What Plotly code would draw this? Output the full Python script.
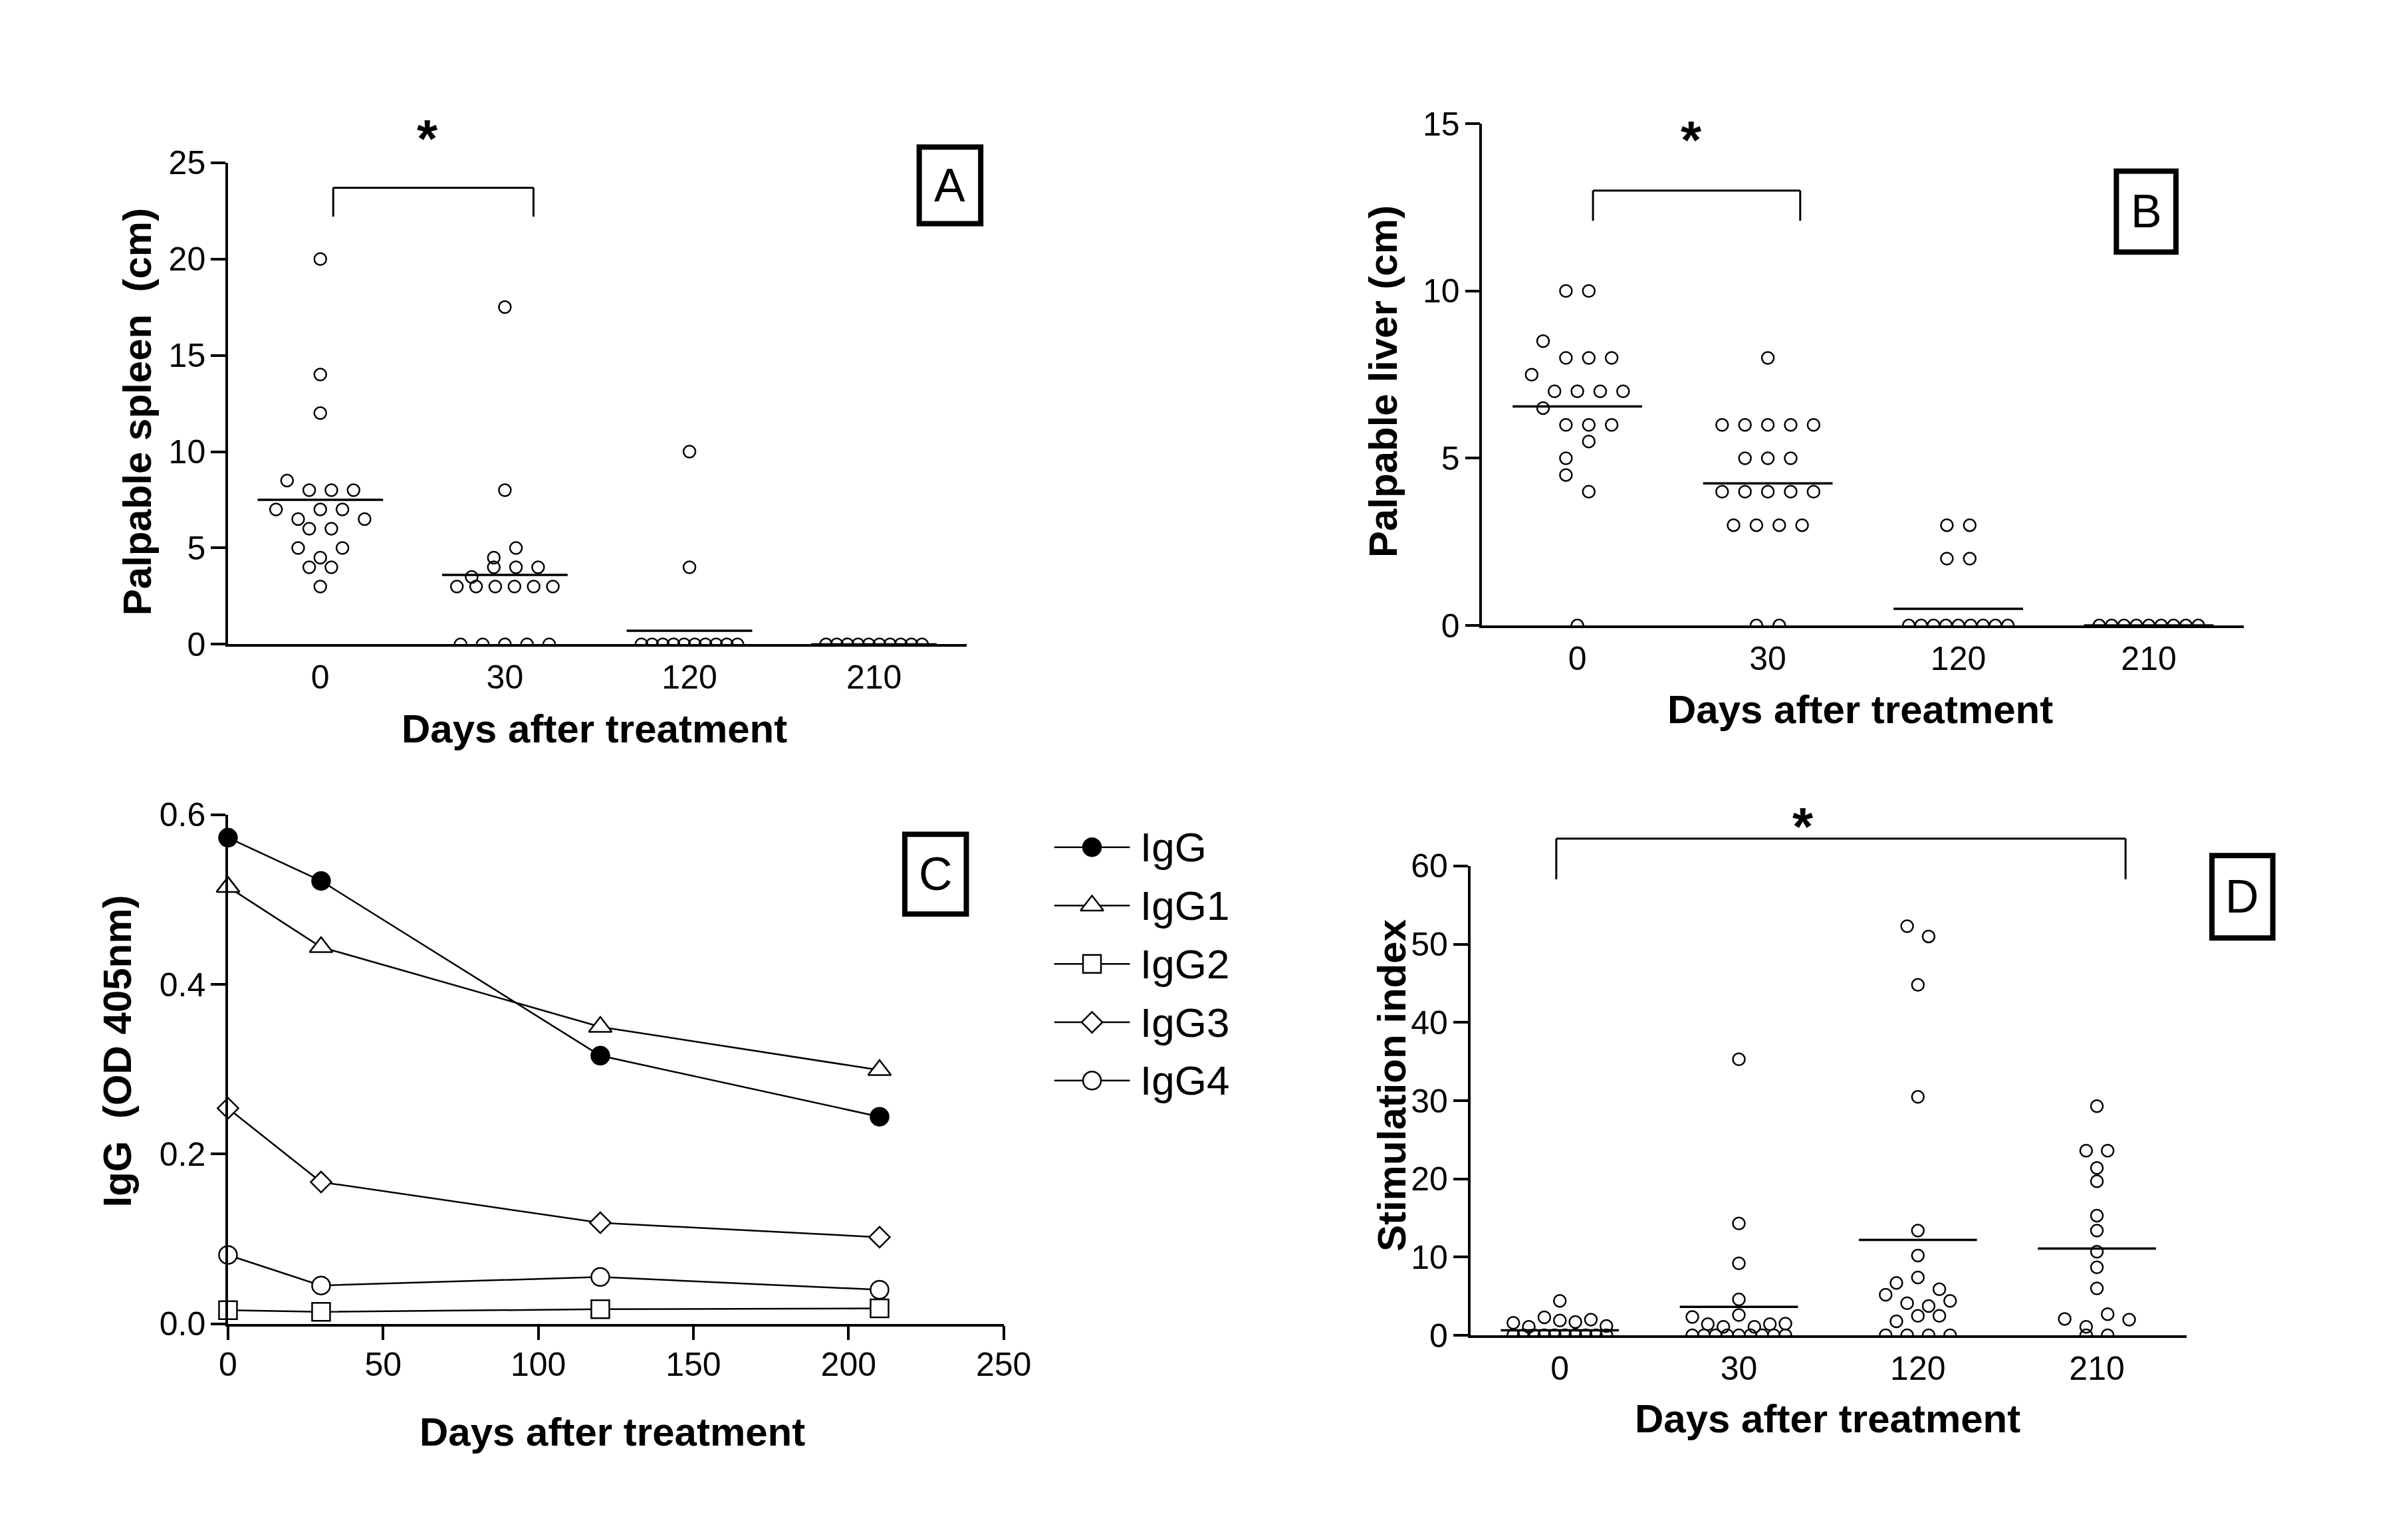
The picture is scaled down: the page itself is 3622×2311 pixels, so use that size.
import plotly.graph_objects as go

W, H = 3622, 2311
FONT = "Liberation Sans, Arial, sans-serif"

days = ["0", "30", "120", "210"]

# A - palpable spleen (cm), values read top to bottom, left to right
spleen_d0 = [20, 14, 12, 8.5, 8, 8, 8, 7, 6.5, 7, 7, 6.5, 6, 6, 5, 4.5, 5, 4, 4, 3]
spleen_d30 = [17.5, 8, 4.5, 5, 3.5, 4, 4, 4, 3, 3, 3, 3, 3, 3, 0, 0, 0, 0, 0]
spleen_d120 = [10, 4, 0, 0, 0, 0, 0, 0, 0, 0, 0, 0]
spleen_d210 = [0, 0, 0, 0, 0, 0, 0, 0, 0, 0]
spleen_mean = [7.5, 3.6, 0.7, 0.0]

# B - palpable liver (cm)
liver_d0 = [10, 10, 8.5, 8, 8, 8, 7.5, 7, 7, 7, 7, 6.5, 6, 6, 6, 5, 5.5, 4.5, 4, 0]
liver_d30 = [8, 6, 6, 6, 6, 6, 5, 5, 5, 4, 4, 4, 4, 4, 3, 3, 3, 3, 0, 0]
liver_d120 = [3, 3, 2, 2, 0, 0, 0, 0, 0, 0, 0, 0, 0]
liver_d210 = [0, 0, 0, 0, 0, 0, 0, 0, 0]
liver_mean = [6.55, 4.25, 0.5, 0.0]

# C - IgG subclasses (OD 405nm)
c_days = [0, 30, 120, 210]
igg = [0.573, 0.522, 0.316, 0.244]
igg1 = [0.515, 0.444, 0.350, 0.299]
igg2 = [0.016, 0.014, 0.017, 0.018]
igg3 = [0.254, 0.167, 0.119, 0.102]
igg4 = [0.081, 0.045, 0.055, 0.040]

# D - stimulation index
si_d0 = [4.4, 1.6, 1.1, 2.3, 1.9, 1.7, 2.0, 1.2, 0, 0, 0, 0, 0, 0, 0, 0, 0, 0]
si_d30 = [35.3, 14.3, 9.2, 4.6, 2.35, 1.44, 1.1, 2.6, 1.1, 1.44, 1.5, 0, 0, 0, 0, 0, 0, 0, 0, 0]
si_d120 = [52.3, 51.0, 44.8, 30.5, 13.4, 10.2, 6.7, 7.4, 5.9, 5.2, 4.1, 3.75, 4.4,
           1.8, 2.5, 2.5, 0, 0, 0, 0]
si_d210 = [29.3, 23.6, 23.6, 21.4, 19.7, 15.3, 13.4, 10.7, 8.7, 6.0, 2.1, 1.1, 2.7, 2.0, 0, 0]
si_mean = [0.65, 3.65, 12.2, 11.1]


def px(x):
    return x / W


def py(y):
    return 1 - y / H


def swarm(vals, tol, step=0.12, half=0.26):
    # rows of close values are spread sideways, like a prism dot plot
    order = sorted(range(len(vals)), key=lambda i: -vals[i])
    rows, cur = [], []
    for i in order:
        if cur and vals[cur[0]] - vals[i] > tol:
            rows.append(cur)
            cur = []
        cur.append(i)
    rows.append(cur)
    off = [0.0] * len(vals)
    for r in rows:
        r = sorted(r)
        n = len(r)
        s = step if n < 2 else min(step, 2 * half / (n - 1))
        for k, i in enumerate(r):
            off[i] = (k - (n - 1) / 2) * s
    return off


def axref(n):
    return ("x", "y") if n == 1 else ("x%d" % n, "y%d" % n)


fig = go.Figure()


def dot_panel(n, groups, means, tol, halfw):
    xr, yr = axref(n)
    xs, ys = [], []
    for i, vals in enumerate(groups):
        for o, v in zip(swarm(vals, tol), vals):
            xs.append(i + o)
            ys.append(v)
    fig.add_trace(go.Scatter(
        x=xs, y=ys, mode="markers", xaxis=xr, yaxis=yr, showlegend=False,
        marker=dict(symbol="circle-open", size=18, color="black", line=dict(width=2.5))))
    for i, m in enumerate(means):
        fig.add_trace(go.Scatter(
            x=[i - halfw, i + halfw], y=[m, m], mode="lines", xaxis=xr, yaxis=yr,
            showlegend=False, line=dict(color="black", width=3.5)))


dot_panel(1, [spleen_d0, spleen_d30, spleen_d120, spleen_d210], spleen_mean, 0.55, 0.34)
dot_panel(2, [liver_d0, liver_d30, liver_d120, liver_d210], liver_mean, 0.55, 0.34)
dot_panel(4, [si_d0, si_d30, si_d120, si_d210], si_mean, 1.65, 0.33)

series = [
    ("IgG", igg, "circle", "black", 27),
    ("IgG1", igg1, "triangle-up", "white", 30),
    ("IgG2", igg2, "square", "white", 27),
    ("IgG3", igg3, "diamond", "white", 24),
    ("IgG4", igg4, "circle", "white", 27),
]
for name, vals, sym, fill, size in series:
    mk = dict(symbol=sym, size=size, color=fill, line=dict(color="black", width=2.5))
    fig.add_trace(go.Scatter(
        x=c_days, y=vals, mode="lines+markers", name=name, xaxis="x3", yaxis="y3",
        showlegend=False, cliponaxis=False, line=dict(color="black", width=2.5), marker=mk))

# hand-drawn legend for panel C (long line samples)
for k, (name, vals, sym, fill, size) in enumerate(series):
    mk = dict(symbol=sym, size=size, color=fill, line=dict(color="black", width=2.5))
    fig.add_trace(go.Scatter(x=[0, 1], y=[k, k], mode="lines", xaxis="x5", yaxis="y5",
                             showlegend=False, line=dict(color="black", width=2.5)))
    fig.add_trace(go.Scatter(x=[0.5], y=[k], mode="markers", xaxis="x5", yaxis="y5",
                             showlegend=False, marker=mk))

tickfont = dict(family=FONT, size=50, color="black")


def xcat(dom, anchor):
    return dict(domain=dom, range=[-0.5, 3.5], tickvals=[0, 1, 2, 3], ticktext=days,
                ticks="", showline=True, linewidth=3.5, linecolor="black", showgrid=False,
                zeroline=False, tickfont=tickfont, ticklabelstandoff=3, anchor=anchor)


def yval(dom, rng, dtick, anchor, fmt=None):
    d = dict(domain=dom, range=rng, dtick=dtick, tick0=0, ticks="outside", ticklen=22,
             tickwidth=3.5, tickcolor="black", showline=True, linewidth=3.5,
             linecolor="black", showgrid=False, zeroline=False, tickfont=tickfont,
             ticklabelstandoff=-2, anchor=anchor)
    if fmt:
        d["tickformat"] = fmt
    return d


A = ([px(326), px(1454)], [py(957), py(214)])
B = ([px(2242), px(3406)], [py(928), py(154)])
C = ([px(326), px(1511)], [py(2005), py(1220)])
D = ([px(2224), px(3318)], [py(2023), py(1299)])

fig.update_layout(
    xaxis=xcat(A[0], "y"), yaxis=yval(A[1], [0, 25], 5, "x"),
    xaxis2=xcat(B[0], "y2"), yaxis2=yval(B[1], [0, 15], 5, "x2"),
    xaxis3=dict(domain=C[0], range=[0, 250], dtick=50, tick0=0, ticks="outside", ticklen=21,
                tickwidth=3.5, tickcolor="black", showline=True, linewidth=3.5,
                linecolor="black", showgrid=False, zeroline=False, tickfont=tickfont,
                ticklabelstandoff=-6, anchor="y3"),
    yaxis3=yval(C[1], [0, 0.6], 0.2, "x3", ".1f"),
    xaxis4=xcat(D[0], "y4"), yaxis4=yval(D[1], [0, 60], 10, "x4"),
    xaxis5=dict(domain=[px(1588), px(1704)], range=[0, 1], visible=False, anchor="y5"),
    yaxis5=dict(domain=[py(1675), py(1225)], range=[4.5, -0.5], visible=False, anchor="x5"),
)

ann = []
shapes = []


def title(text, x, y, angle=0, size=60):
    ann.append(dict(text="<b>%s</b>" % text, x=px(x), y=py(y), xref="paper", yref="paper",
                    showarrow=False, textangle=angle, xanchor="center", yanchor="middle",
                    font=dict(family=FONT, size=size, color="black")))


title("Palpable spleen\u00a0 (cm)", 187, 598, -90)
title("Palpable liver (cm)", 2091, 552, -90)
title("IgG\u00a0 (OD 405nm)", 157, 1585, -90)
title("Stimulation index", 2104, 1637, -90)
title("Days after treatment", 886, 1087)
title("Days after treatment", 2820, 1058)
title("Days after treatment", 913, 2172)
title("Days after treatment", 2770, 2152)

# panel letters in thick boxes
for letter, x0, x1, y0, y1 in [("A", 1382, 1476, 190, 308), ("B", 3211, 3302, 227, 352),
                               ("C", 1360, 1454, 1250, 1373), ("D", 3357, 3450, 1283, 1410)]:
    shapes.append(dict(type="rect", xref="paper", yref="paper", x0=px(x0), x1=px(x1),
                       y0=py(y1), y1=py(y0), line=dict(color="black", width=8)))
    ann.append(dict(text=letter, x=px((x0 + x1) / 2), y=py((y0 + y1) / 2), xref="paper",
                    yref="paper", showarrow=False, xanchor="center", yanchor="middle",
                    font=dict(family=FONT, size=70, color="black")))

# legend labels
for k, (name, *_rest) in enumerate(series):
    ann.append(dict(text=name, x=px(1718), y=k, xref="paper", yref="y5", showarrow=False,
                    xanchor="left", yanchor="middle",
                    font=dict(family=FONT, size=62, color="black")))


# significance brackets and stars (placed above the axis range, so in domain/paper units)
def bracket(n, dom, c0, c1, ytop, ybot, ymax, star_c, star_y):
    xr, yr = axref(n)
    fx = lambda c: (c + 0.5) / 4
    for (a, b, c, d) in [(c0, ybot, c0, ytop), (c0, ytop, c1, ytop), (c1, ytop, c1, ybot)]:
        shapes.append(dict(type="line", xref=xr + " domain", yref=yr + " domain",
                           x0=fx(a), y0=b / ymax, x1=fx(c), y1=d / ymax,
                           line=dict(color="black", width=3)))
    (dx0, dx1), (dy0, dy1) = dom
    ann.append(dict(text="<b>*</b>", x=dx0 + fx(star_c) * (dx1 - dx0),
                    y=dy0 + star_y / ymax * (dy1 - dy0), xref="paper", yref="paper",
                    showarrow=False, xanchor="center", yanchor="middle", yshift=-19,
                    font=dict(family=FONT, size=80, color="black")))


bracket(1, A, 0.07, 1.155, 23.7, 22.2, 25, 0.58, 26.9)
bracket(2, B, 0.082, 1.17, 13.0, 12.1, 15, 0.60, 14.9)
bracket(4, D, -0.02, 3.16, 63.5, 58.3, 60, 1.36, 66.7)

fig.update_layout(
    width=W, height=H, margin=dict(l=0, r=0, t=0, b=0),
    paper_bgcolor="white", plot_bgcolor="white", showlegend=False,
    annotations=ann, shapes=shapes,
    font=dict(family=FONT, color="black"),
)

fig.write_html("out.html")
